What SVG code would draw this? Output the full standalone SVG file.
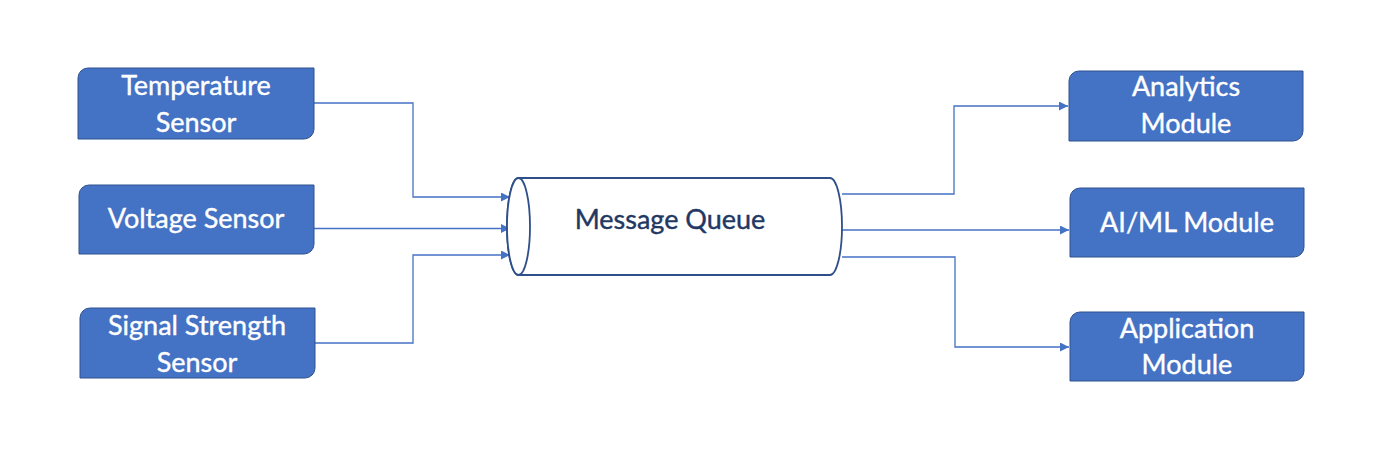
<svg xmlns="http://www.w3.org/2000/svg" width="1400" height="463" viewBox="0 0 1400 463">
<style>
.box{fill:#4472c4;stroke:#2f528f;stroke-width:1}
.lbl{fill:#ffffff;stroke:#ffffff;stroke-width:0.4;font-family:Lato,"Open Sans","Liberation Sans",sans-serif;font-size:27px;text-anchor:middle}
.conn{fill:none;stroke:#4472c4;stroke-width:1.3}
.cyl{fill:#ffffff;stroke:#2f4f8a;stroke-width:1.8}
.mq{fill:#1f3864;stroke:#1f3864;stroke-width:0.4;font-family:Lato,"Open Sans","Liberation Sans",sans-serif;font-size:27px;text-anchor:middle}
</style>
<defs>
<marker id="ah" viewBox="0 0 10 10" refX="10" refY="5" markerWidth="11" markerHeight="9" markerUnits="userSpaceOnUse" orient="auto">
<path d="M0,0 L10,5 L0,10 Z" fill="#4472c4"/>
</marker>
</defs>
<rect width="1400" height="463" fill="#ffffff"/>
<g id="connectors">
<path class="conn" d="M314,103 H413 V197 H510" marker-end="url(#ah)"/>
<path class="conn" d="M314,228.5 H510" marker-end="url(#ah)"/>
<path class="conn" d="M315,343 H413 V255 H510" marker-end="url(#ah)"/>
<path class="conn" d="M842,194 H954 V106 H1068" marker-end="url(#ah)"/>
<path class="conn" d="M837,230 H1069" marker-end="url(#ah)"/>
<path class="conn" d="M842,257 H955 V347 H1069" marker-end="url(#ah)"/>
</g>
<g id="temperature-sensor">
<path class="box" d="M88,68 H314 V129 A10,10 0 0 1 304,139 H78 V78 A10,10 0 0 1 88,68 Z"/>
<text class="lbl" x="196" y="95">Temperature</text>
<text class="lbl" x="196" y="132">Sensor</text>
</g>
<g id="voltage-sensor">
<path class="box" d="M89,185 H314 V244 A10,10 0 0 1 304,254 H79 V195 A10,10 0 0 1 89,185 Z"/>
<text class="lbl" x="196" y="228">Voltage Sensor</text>
</g>
<g id="signal-strength-sensor">
<path class="box" d="M90,308 H315 V368 A10,10 0 0 1 305,378 H80 V318 A10,10 0 0 1 90,308 Z"/>
<text class="lbl" x="197" y="335">Signal Strength</text>
<text class="lbl" x="197" y="372">Sensor</text>
</g>
<g id="message-queue">
<path class="cyl" d="M518.5,178 H830 A12,48.5 0 0 1 830,275 H518.5 A11.5,48.5 0 0 1 518.5,178 Z"/>
<ellipse class="cyl" cx="518.5" cy="226.5" rx="11.5" ry="48.5"/>
<text class="mq" x="670" y="229">Message Queue</text>
</g>
<g id="analytics-module">
<path class="box" d="M1079,71 H1303 V131 A10,10 0 0 1 1293,141 H1069 V81 A10,10 0 0 1 1079,71 Z"/>
<text class="lbl" x="1186" y="96">Analytics</text>
<text class="lbl" x="1186" y="133">Module</text>
</g>
<g id="aiml-module">
<path class="box" d="M1080,188 H1304 V247 A10,10 0 0 1 1294,257 H1070 V198 A10,10 0 0 1 1080,188 Z"/>
<text class="lbl" x="1187" y="232">AI/ML Module</text>
</g>
<g id="application-module">
<path class="box" d="M1080,312 H1304 V371 A10,10 0 0 1 1294,381 H1070 V322 A10,10 0 0 1 1080,312 Z"/>
<text class="lbl" x="1187" y="338">Application</text>
<text class="lbl" x="1187" y="374">Module</text>
</g>
</svg>
